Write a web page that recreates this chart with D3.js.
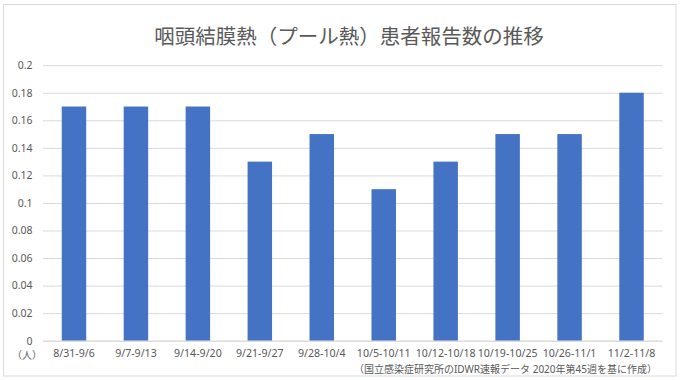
<!DOCTYPE html>
<html><head><meta charset="utf-8">
<script src="https://cdn.jsdelivr.net/npm/d3@7"></script>
<style>
html,body{margin:0;padding:0;background:#fff;}
svg{display:block;}
text{font-family:"Noto Sans","Noto Sans CJK JP",sans-serif;fill:#595959;}
</style></head>
<body>
<svg id="chart" width="680" height="380"></svg>
<script>
const title = "咽頭結膜熱（プール熱）患者報告数の推移";
const categories = ["8/31-9/6","9/7-9/13","9/14-9/20","9/21-9/27","9/28-10/4","10/5-10/11","10/12-10/18","10/19-10/25","10/26-11/1","11/2-11/8"];
const values = [0.17,0.17,0.17,0.13,0.15,0.11,0.13,0.15,0.15,0.18];
const yTicks = [0,0.02,0.04,0.06,0.08,0.1,0.12,0.14,0.16,0.18,0.2];
const yTickLabels = ["0","0.02","0.04","0.06","0.08","0.1","0.12","0.14","0.16","0.18","0.2"];
const unitLabel = "（人）";
const sourceNote = "（国立感染症研究所のIDWR速報データ 2020年第45週を基に作成）";

const svg = d3.select("#chart");
const mLeft = 43, mRight = 662.5, mTop = 65.2, mBottom = 340.7;
const latinFont = '"Noto Sans","Noto Sans CJK JP",sans-serif';
const cjkFont = '"Noto Sans CJK JP","Noto Sans",sans-serif';

svg.append("rect").attr("x",3.5).attr("y",4.5).attr("width",672.5).attr("height",371.5)
  .attr("fill","#fff").attr("stroke","#d9d9d9").attr("stroke-width",1);

const x = d3.scaleBand().domain(categories).range([mLeft,mRight]).paddingInner(0.605).paddingOuter(0.3025);
const y = d3.scaleLinear().domain([0,0.2]).range([mBottom,mTop]);

// gridlines + y labels
const yAxis = d3.axisLeft(y).tickValues(yTicks)
  .tickFormat((d,i)=>yTickLabels[i]).tickSize(-(mRight-mLeft)).tickPadding(10);
const gy = svg.append("g").attr("transform",`translate(${mLeft},0)`).call(yAxis);
gy.select(".domain").remove();
gy.selectAll(".tick line").attr("stroke","#d9d9d9").attr("stroke-width",1);
gy.selectAll(".tick text").attr("font-size","10.5px").attr("x",-10.5).style("fill","#595959")
  .attr("font-family",latinFont);

// bars
svg.append("g").selectAll("rect").data(values).join("rect")
  .attr("x",(d,i)=>x(categories[i]))
  .attr("width",x.bandwidth())
  .attr("y",d=>y(d))
  .attr("height",d=>y(0)-y(d))
  .attr("fill","#4472C4");

// x axis
const xAxis = d3.axisBottom(x).tickSize(0).tickPadding(9);
const gx = svg.append("g").attr("transform",`translate(0,${mBottom})`).call(xAxis);
gx.select(".domain").attr("stroke","#d9d9d9");
gx.selectAll(".tick text").attr("font-size","10.6px").style("fill","#595959")
  .attr("font-family",latinFont);

svg.append("text").attr("x",27).attr("y",355).attr("text-anchor","middle")
  .attr("dominant-baseline","central").attr("font-size","10px")
  .attr("font-family",cjkFont).text(unitLabel);

svg.append("text").attr("x",349).attr("y",36).attr("text-anchor","middle")
  .attr("dominant-baseline","central").attr("font-size","20.5px")
  .attr("font-family",cjkFont).text(title);

svg.append("text").attr("x",657).attr("y",369).attr("text-anchor","end")
  .attr("dominant-baseline","central").attr("font-size","10px")
  .attr("font-family",cjkFont).text(sourceNote);
</script>
</body></html>
